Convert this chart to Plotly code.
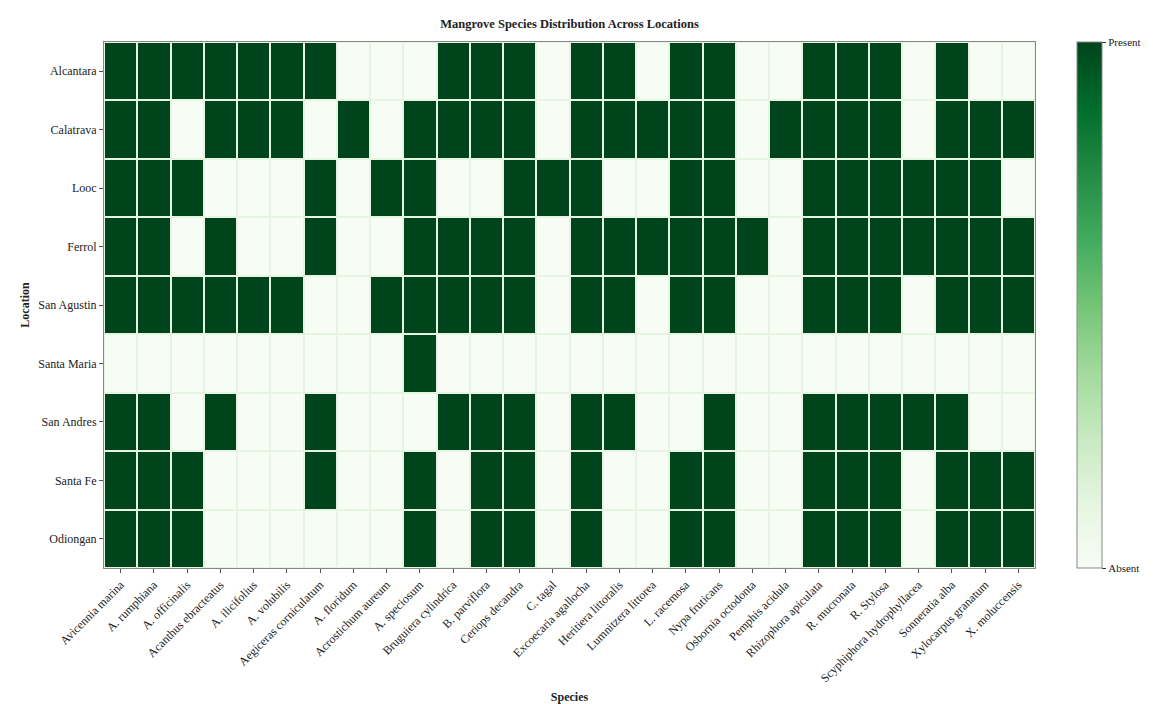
import plotly.graph_objects as go

species = [
    "Avicennia marina", "A. rumphiana", "A. officinalis", "Acanthus ebracteatus",
    "A. ilicifolius", "A. volubilis", "Aegiceras corniculatum", "A. floridum",
    "Acrostichum aureum", "A. speciosum", "Bruguiera cylindrica", "B. parviflora",
    "Ceriops decandra", "C. tagal", "Excoecaria agallocha", "Heritiera littoralis",
    "Lumnitzera littorea", "L. racemosa", "Nypa fruticans", "Osbornia octodonta",
    "Pemphis acidula", "Rhizophora apiculata", "R. mucronata", "R. Stylosa",
    "Scyphiphora hydrophyllacea", "Sonneratia alba", "Xylocarpus granatum",
    "X. moluccensis",
]

locations = [
    "Alcantara", "Calatrava", "Looc", "Ferrol", "San Agustin",
    "Santa Maria", "San Andres", "Santa Fe", "Odiongan",
]

# 1 = species present at the location, 0 = absent
alcantara   = [1,1,1,1,1,1,1,0,0,0,1,1,1,0,1,1,0,1,1,0,0,1,1,1,0,1,0,0]
calatrava   = [1,1,0,1,1,1,0,1,0,1,1,1,1,0,1,1,1,1,1,0,1,1,1,1,0,1,1,1]
looc        = [1,1,1,0,0,0,1,0,1,1,0,0,1,1,1,0,0,1,1,0,0,1,1,1,1,1,1,0]
ferrol      = [1,1,0,1,0,0,1,0,0,1,1,1,1,0,1,1,1,1,1,1,0,1,1,1,1,1,1,1]
san_agustin = [1,1,1,1,1,1,0,0,1,1,1,1,1,0,1,1,0,1,1,0,0,1,1,1,0,1,1,1]
santa_maria = [0,0,0,0,0,0,0,0,0,1,0,0,0,0,0,0,0,0,0,0,0,0,0,0,0,0,0,0]
san_andres  = [1,1,0,1,0,0,1,0,0,0,1,1,1,0,1,1,0,0,1,0,0,1,1,1,1,1,0,0]
santa_fe    = [1,1,1,0,0,0,1,0,0,1,0,1,1,0,1,0,0,1,1,0,0,1,1,1,0,1,1,1]
odiongan    = [1,1,1,0,0,0,0,0,0,1,0,1,1,0,1,0,0,1,1,0,0,1,1,1,0,1,1,1]

presence = [alcantara, calatrava, looc, ferrol, san_agustin,
            santa_maria, san_andres, santa_fe, odiongan]

colorbar_ticks = [0, 1]
colorbar_labels = ["Absent", "Present"]

greens = [
    [0.0, "#f7fcf5"], [0.125, "#e5f5e0"], [0.25, "#c7e9c0"], [0.375, "#a1d99b"],
    [0.5, "#74c476"], [0.625, "#41ab5d"], [0.75, "#238b45"], [0.875, "#006d2c"],
    [1.0, "#00441b"],
]

serif = "Liberation Serif, Times New Roman, serif"

fig = go.Figure(
    go.Heatmap(
        z=presence,
        x=species,
        y=locations,
        zmin=0,
        zmax=1,
        colorscale=greens,
        xgap=2,
        ygap=2,
        colorbar=dict(
            tickvals=colorbar_ticks,
            ticktext=colorbar_labels,
            thickness=25,
            len=1.0,
            lenmode="fraction",
            y=0.5,
            yanchor="middle",
            x=1.045,
            xanchor="left",
            xpad=0,
            ypad=0,
            outlinewidth=1,
            outlinecolor="#888888",
            ticks="outside",
            ticklen=4,
            tickcolor="#333333",
            tickfont=dict(family=serif, size=11, color="#222222"),
        ),
    )
)

fig.update_layout(
    width=1153,
    height=704,
    margin=dict(l=104, r=113, t=42, b=136),
    paper_bgcolor="white",
    plot_bgcolor="#e6f5e2",
    font=dict(family=serif, size=12, color="#222222"),
    title=dict(
        text="<b>Mangrove Species Distribution Across Locations</b>",
        x=0.5,
        xref="paper",
        xanchor="center",
        y=0.972,
        yref="container",
        font=dict(family=serif, size=12.5, color="#222222"),
    ),
)

fig.update_xaxes(
    title=dict(text="<b>Species</b>", font=dict(family=serif, size=12), standoff=8),
    automargin=False,
    tickangle=-45,
    tickfont=dict(family=serif, size=12, color="#222222"),
    ticks="outside",
    ticklen=4,
    tickcolor="#555555",
    showline=True,
    linecolor="#888888",
    linewidth=1,
    mirror=True,
    showgrid=False,
)

fig.update_yaxes(
    title=dict(text="<b>Location</b>", font=dict(family=serif, size=12), standoff=6),
    automargin=False,
    autorange="reversed",
    tickfont=dict(family=serif, size=12, color="#222222"),
    ticks="outside",
    ticklen=4,
    tickcolor="#555555",
    showline=True,
    linecolor="#888888",
    linewidth=1,
    mirror=True,
    showgrid=False,
)

fig.write_html("out.html")
